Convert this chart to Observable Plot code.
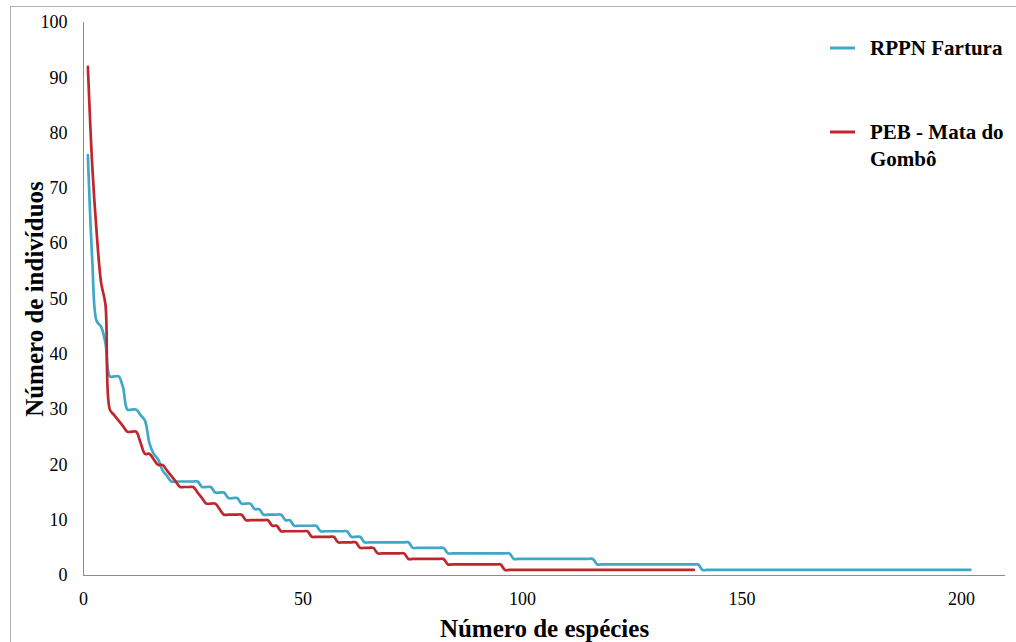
<!DOCTYPE html>
<html><head><meta charset="utf-8">
<script src="https://cdn.jsdelivr.net/npm/d3@7"></script>
<script src="https://cdn.jsdelivr.net/npm/@observablehq/plot@0.6"></script>
<style>
html,body{margin:0;padding:0;background:#fff;overflow:hidden;}
#wrap{position:relative;width:1016px;height:642px;}
#frame{position:absolute;left:10px;top:6px;width:1100px;height:700px;border:1px solid #b0b0b0;box-sizing:border-box;pointer-events:none;}
#legend{position:absolute;left:0;top:0;pointer-events:none;}
</style></head><body><div id="wrap"><div id="frame"></div></div>
<script>
const serifFont = '"Liberation Serif", "Times New Roman", Times, "DejaVu Serif", serif';
const seriesNames = ["RPPN Fartura", "PEB - Mata do Gombô"];
const legendLines = [["RPPN Fartura"], ["PEB - Mata do", "Gombô"]];
const seriesColors = ["#3fa8c8", "#c0262d"];

// abundance (número de indivíduos) per species rank
const rppnFartura = [
76,57,46,45,42,36,36,36,34,30,30,30,29,28,24,22,21,19,18,
17,17,17,17,17,17,17,
16,16,16,
15,15,15,
14,14,14,
13,13,13,
12,12,
11,11,11,11,11,
10,10,
9,9,9,9,9,9,
8,8,8,8,8,8,8,
7,7,7,
6,6,6,6,6,6,6,6,6,6,6,
5,5,5,5,5,5,5,5,
4,4,4,4,4,4,4,4,4,4,4,4,4,4,4,
3,3,3,3,3,3,3,3,3,3,3,3,3,3,3,3,3,3,3,
2,2,2,2,2,2,2,2,2,2,2,2,2,2,2,2,2,2,2,2,2,2,2,2,
1,1,1,1,1,1,1,1,1,1,
1,1,1,1,1,1,1,1,1,1,
1,1,1,1,1,1,1,1,1,1,
1,1,1,1,1,1,1,1,1,1,
1,1,1,1,1,1,1,1,1,1,
1,1,1,1,1,1,1,1,1,1,
1,1
];

const pebMataGombo = [
92,74,62,53,49,30,29,28,27,26,26,26,24,22,22,21,20,20,19,18,17,
16,16,16,16,
15,
14,
13,13,13,
12,
11,11,11,11,11,
10,10,10,10,10,10,
9,9,
8,8,8,8,8,8,8,
7,7,7,7,7,7,
6,6,6,6,6,
5,5,5,5,
4,4,4,4,4,4,4,
3,3,3,3,3,3,3,3,3,
2,2,2,2,2,2,2,2,2,2,2,2,2,
1,1,1,1,1,1,1,1,1,1,
1,1,1,1,1,1,1,1,1,1,
1,1,1,1,1,1,1,1,1,1,
1,1,1,1,1,1,1,1,1,1,
1,1,1,1
];

const xTicks = [0, 50, 100, 150, 200];
const yTicks = [0, 10, 20, 30, 40, 50, 60, 70, 80, 90, 100];
const xLabel = "Número de espécies";
const yLabel = "Número de indivíduos";

const data = [
  ...rppnFartura.map((v, i) => ({series: seriesNames[0], rank: i + 1, value: v})),
  ...pebMataGombo.map((v, i) => ({series: seriesNames[1], rank: i + 1, value: v}))
];

const chart = Plot.plot({
  width: 1016,
  height: 642,
  marginLeft: 83,
  marginRight: 11,
  marginTop: 22,
  marginBottom: 67,
  style: {fontFamily: serifFont, fontSize: "18px", background: "transparent", color: "#000"},
  x: {domain: [0, 210], ticks: xTicks, tickSize: 0, tickPadding: 17, label: xLabel, labelAnchor: "center", labelOffset: 61, labelArrow: "none"},
  y: {domain: [0, 100], ticks: yTicks, tickSize: 0, tickPadding: 16, label: yLabel, labelAnchor: "center", labelOffset: 58, labelArrow: "none"},
  color: {domain: seriesNames, range: seriesColors},
  marks: [
    Plot.ruleY([0], {stroke: "#8c8c8c", strokeWidth: 1}),
    Plot.ruleX([0], {stroke: "#8c8c8c", strokeWidth: 1}),
    Plot.line(data, {x: "rank", y: "value", stroke: "series", z: "series", curve: "catmull-rom", strokeWidth: 2.7})
  ]
});

const svg = d3.select(chart);
svg.selectAll("text").style("font-family", serifFont);
svg.selectAll('g[aria-label="x-axis label"], g[aria-label="y-axis label"]')
  .attr("font-size", 25).attr("font-weight", "bold");
svg.selectAll('g[aria-label="x-axis label"] text, g[aria-label="y-axis label"] text')
  .style("font-size", "25px").style("font-weight", "bold");

const wrap = document.getElementById("wrap");
wrap.insertBefore(chart, wrap.firstChild);

// legend (overlay svg, top-right)
const leg = d3.select(wrap).append("svg")
  .attr("id", "legend").attr("width", 1016).attr("height", 642);
const legY = [48, 132];
seriesNames.forEach((name, i) => {
  const g = leg.append("g").attr("transform", `translate(830,${legY[i]})`);
  g.append("line").attr("x1", 0).attr("x2", 25).attr("y1", 0).attr("y2", 0)
    .attr("stroke", seriesColors[i]).attr("stroke-width", 3);
  const t = g.append("text").attr("x", 40).attr("y", 7)
    .style("font-family", serifFont).style("font-weight", "bold").style("font-size", "21px").attr("fill", "#000");
  legendLines[i].forEach((ln, j) => {
    t.append("tspan").attr("x", 40).attr("dy", j === 0 ? 0 : 27).text(ln);
  });
});
</script>
</body></html>
